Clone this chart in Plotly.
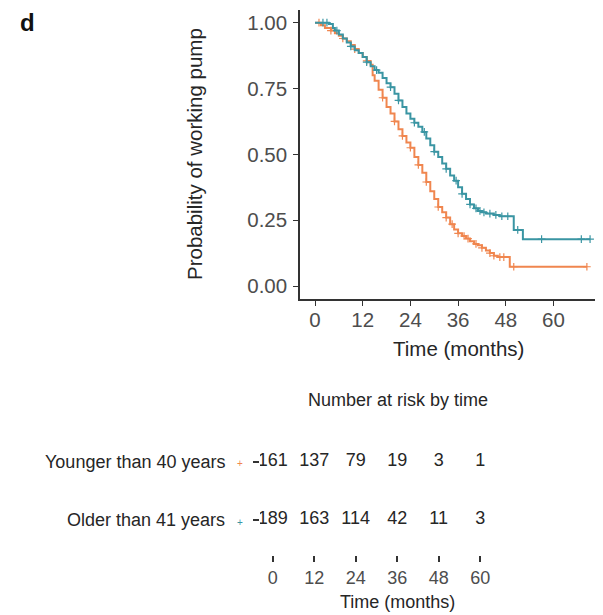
import numpy as np
import plotly.graph_objects as go

# ---------------- data ----------------
young_time = [0, 1.5, 2.5, 4, 5, 6, 7, 8, 9, 10, 11, 12, 13, 14, 14.5, 15, 16, 17, 18, 19, 20,
              21, 22, 23, 24, 25, 26, 27, 28, 29, 30, 31, 32, 33, 34, 35, 36, 37, 38, 39, 40,
              41, 42, 43, 44, 45, 46, 49, 68.4]
young_surv = [1.0, 0.99, 0.98, 0.97, 0.96, 0.95, 0.94, 0.93, 0.915, 0.90, 0.885, 0.87, 0.855,
              0.84, 0.80, 0.78, 0.745, 0.715, 0.68, 0.655, 0.625, 0.595, 0.57, 0.545, 0.525,
              0.49, 0.46, 0.43, 0.395, 0.36, 0.33, 0.30, 0.28, 0.26, 0.235, 0.215, 0.20, 0.19,
              0.18, 0.17, 0.16, 0.155, 0.145, 0.135, 0.125, 0.115, 0.11, 0.073, 0.073]
young_censor = [1, 4, 7, 10, 13, 17, 20, 22, 24, 26, 28, 31, 33, 34.5, 36, 37.5, 38.5, 40.5,
                42, 44, 45, 46.5, 47.5, 50, 68.4]

old_time = [0, 3.5, 4.5, 5, 6, 7, 8, 9, 10, 11, 12, 13, 14, 15, 16, 17, 18, 19, 20, 21, 22, 23,
            24, 25, 26, 27, 28, 29, 30, 31, 32, 33, 34, 35, 36, 37, 38, 39, 40, 41, 42, 43, 45,
            46.5, 50, 52.3, 69.2]
old_surv = [1.0, 0.995, 0.98, 0.97, 0.955, 0.94, 0.925, 0.91, 0.895, 0.885, 0.87, 0.85, 0.835,
            0.82, 0.81, 0.79, 0.77, 0.755, 0.73, 0.705, 0.68, 0.655, 0.635, 0.62, 0.605, 0.585,
            0.56, 0.535, 0.51, 0.49, 0.465, 0.445, 0.42, 0.40, 0.375, 0.35, 0.33, 0.31, 0.295,
            0.285, 0.28, 0.275, 0.27, 0.265, 0.213, 0.178, 0.178]
old_censor = [2, 3, 5.5, 9, 13, 15.5, 19, 21, 25, 27.5, 30, 33, 35.5, 37, 39, 40.5, 41.5, 42.5,
              44, 45.5, 47, 48.5, 51, 57, 67, 69.2]

risk_times = [0, 12, 24, 36, 48, 60]
young_risk = [161, 137, 79, 19, 3, 1]
old_risk = [189, 163, 114, 42, 11, 3]

group_names = ["Younger than 40 years", "Older than 41 years"]
x_ticks = [0, 12, 24, 36, 48, 60]
y_ticks = [0, 0.25, 0.5, 0.75, 1.0]
y_ticktext = ["0.00", "0.25", "0.50", "0.75", "1.00"]

# ---------------- style ----------------
ORANGE = "#F0864F"
TEAL = "#3A95A3"
OFF = 8                      # page body margin
W, H = 603 - OFF, 615 - OFF  # figure size
FONT = "Liberation Sans, Arial, sans-serif"
TICK_COL = "#4d4d4d"
TXT_COL = "#262626"
TOP_FS = 20.5
TAB_FS = 18


def px_x(p):
    return (p - OFF) / W


def px_y(p):
    return 1 - (p - OFF) / H


def surv_at(times, surv, c):
    t = np.asarray(times)
    s = np.asarray(surv)
    idx = np.searchsorted(t, np.asarray(c), side="right") - 1
    return s[idx]


fig = go.Figure()

for times, surv, cens, col, name in [
    (young_time, young_surv, young_censor, ORANGE, group_names[0]),
    (old_time, old_surv, old_censor, TEAL, group_names[1]),
]:
    fig.add_trace(go.Scatter(x=times, y=surv, mode="lines", line=dict(color=col, width=2, shape="hv"),
                             name=name, showlegend=False, xaxis="x", yaxis="y"))
    fig.add_trace(go.Scatter(x=cens, y=surv_at(times, surv, cens), mode="markers",
                             marker=dict(symbol="cross-thin", size=5.5, line=dict(color=col, width=1.2)),
                             showlegend=False, xaxis="x", yaxis="y"))

# risk table numbers
for vals, yv in [(young_risk, 2), (old_risk, 1)]:
    fig.add_trace(go.Scatter(x=risk_times, y=[yv] * len(risk_times), mode="text",
                             text=[str(v) for v in vals],
                             textfont=dict(family=FONT, size=TAB_FS, color=TXT_COL),
                             showlegend=False, xaxis="x2", yaxis="y2"))

# ---------------- layout ----------------
x0_px, xstep = 315, 3.975
y0_px, ystep = 286, 263.3
x2_0, x2_step = 272.7, 3.458

fig.update_layout(
    width=W, height=H,
    margin=dict(l=0, r=0, t=0, b=0),
    paper_bgcolor="white", plot_bgcolor="white",
    font=dict(family=FONT, color=TXT_COL),
    xaxis=dict(domain=[px_x(300), 1.0],
               range=[(300 - x0_px) / xstep, (603 - x0_px) / xstep],
               tickvals=x_ticks, ticks="outside", ticklen=5, tickwidth=1.3, tickcolor="#333",
               ticklabelstandoff=-4,
               showline=True, linecolor="#333", linewidth=1.5, showgrid=False, zeroline=False,
               tickfont=dict(size=TOP_FS, color=TICK_COL, family=FONT), anchor="y"),
    yaxis=dict(domain=[px_y(y0_px + 0.05 * ystep), px_y(y0_px - 1.05 * ystep)],
               range=[-0.05, 1.05], tickvals=y_ticks, ticktext=y_ticktext,
               ticks="outside", ticklen=5, tickwidth=1.3, tickcolor="#333",
               ticklabelstandoff=2,
               showline=True, linecolor="#333", linewidth=1.5, showgrid=False, zeroline=False,
               tickfont=dict(size=TOP_FS, color=TICK_COL, family=FONT), anchor="x"),
    xaxis2=dict(domain=[px_x(260), px_x(535.2)],
                range=[(260 - x2_0) / x2_step, (535.2 - x2_0) / x2_step],
                tickvals=x_ticks, ticks="outside", ticklen=6, tickwidth=1.5, tickcolor="#333",
                showline=False, showgrid=False, zeroline=False,
                tickfont=dict(size=TAB_FS, color=TICK_COL, family=FONT), anchor="y2"),
    yaxis2=dict(domain=[px_y(555), px_y(426.7)], range=[0.4, 2.6], tickvals=[1, 2],
                showticklabels=False, ticks="outside", ticklen=6, tickwidth=1.5, tickcolor="#333",
                showline=False, showgrid=False, zeroline=False, anchor="x2"),
)


def note(text, x, y, size, color=TXT_COL, xanchor="center", angle=0):
    return dict(text=text, x=px_x(x), y=px_y(y), xref="paper", yref="paper",
                xanchor=xanchor, yanchor="middle", textangle=angle, showarrow=False,
                font=dict(size=size, color=color, family=FONT))


ann = [
    note("<b>d</b>", 27, 22, 24, color="#111"),
    note("Probability of working pump", 194, 154, TOP_FS, angle=-90),
    note("Time (months)", 458, 348, TOP_FS),
    note("Number at risk by time", 397.5, 400, TAB_FS),
    note("Time (months)", 397.5, 602, TAB_FS),
]
for name, col, py in [(group_names[0], ORANGE, 461.7), (group_names[1], TEAL, 520)]:
    ann.append(note(name, 227, py, TAB_FS, xanchor="right"))
    ann.append(note("+", 240, py + 2, 10, color=col))
fig.update_layout(annotations=ann)

fig.write_html("out.html")
